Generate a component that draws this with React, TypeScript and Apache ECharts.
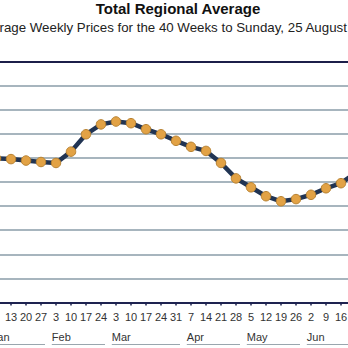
import React, { useEffect, useRef } from "react";
import * as echarts from "echarts";

const titleText = "Total Regional Average";
const subtitleText = "Average Weekly Prices for the 40 Weeks to Sunday, 25 August 2013";

// weeks (Sundays) visible in the picture, 6 Jan .. 23 Jun 2013
const weekDays = [
  "6", "13", "20", "27",
  "3", "10", "17", "24",
  "3", "10", "17", "24", "31",
  "7", "14", "21", "28",
  "5", "12", "19", "26",
  "2", "9", "16", "23",
];
const weekKeys = weekDays.map((d, i) => `${i}-${d}`);

// average price (in gridline units)
const prices = [
  5.98, 5.95, 5.89, 5.83,
  5.79, 6.26, 6.98, 7.39,
  7.51, 7.44, 7.19, 6.98, 6.71,
  6.46, 6.29, 5.79, 5.15,
  4.78, 4.41, 4.2, 4.29,
  4.47, 4.74, 4.95, 5.39,
];

const monthNames = ["Jan", "Feb", "Mar", "Apr", "May", "Jun"];
const monthStart = [0, 4, 8, 13, 17, 21];
const monthCount = [4, 4, 5, 4, 4, 4];

const FONT = "'Liberation Sans', Arial, Helvetica, sans-serif";

export default function App() {
  const ref = useRef<HTMLDivElement>(null);

  useEffect(() => {
    if (!ref.current) return;
    const chart = echarts.init(ref.current, null, { renderer: "svg" });
    chart.setOption({
      animation: false,
      backgroundColor: "#ffffff",
      title: {
        text: titleText,
        left: "center",
        top: 0,
        padding: [1, 5, 1, 5],
        textStyle: { fontSize: 15, fontWeight: "bold", color: "#111111", fontFamily: FONT },
      },
      grid: { left: 88.5, right: 92.5, top: 61.5, bottom: 45.5, containLabel: false },
      xAxis: [
        {
          type: "category",
          data: weekKeys,
          boundaryGap: true,
          position: "bottom",
          axisLine: { show: true, lineStyle: { color: "#1e2350", width: 2 } },
          axisTick: { show: true, alignWithLabel: true, length: 3, lineStyle: { color: "#1e2350", width: 1.5 } },
          axisLabel: {
            interval: 0,
            margin: 9,
            fontSize: 11,
            color: "#333333",
            fontFamily: FONT,
            formatter: (v: string) => v.split("-")[1],
          },
          splitLine: { show: false },
        },
        {
          type: "category",
          data: weekKeys,
          boundaryGap: true,
          position: "top",
          axisLine: { show: true, lineStyle: { color: "#1c1f4a", width: 2 } },
          axisTick: { show: false },
          axisLabel: { show: false },
          splitLine: { show: false },
        },
      ],
      yAxis: {
        type: "value",
        min: 0,
        max: 10,
        interval: 1,
        axisLine: { show: false },
        axisTick: { show: false },
        axisLabel: { show: false },
        splitLine: { show: true, lineStyle: { color: "#8a9ca8", width: 1.6 } },
      },
      series: [
        {
          type: "line",
          data: prices,
          xAxisIndex: 0,
          symbol: "circle",
          symbolSize: 9.5,
          lineStyle: { color: "#213453", width: 4.5 },
          itemStyle: { color: "#e2a245", borderColor: "#b88232", borderWidth: 1 },
          z: 3,
        },
      ],
    });

    const p0 = chart.convertToPixel({ xAxisIndex: 0 }, weekKeys[0]) as number;
    const p1 = chart.convertToPixel({ xAxisIndex: 0 }, weekKeys[1]) as number;
    const half = (p1 - p0) / 2;
    const elements: any[] = [
      {
        type: "text",
        x: 278.5,
        y: 21,
        style: {
          text: subtitleText,
          fill: "#222222",
          font: `13.3px ${FONT}`,
          textAlign: "center",
          align: "center",
          textVerticalAlign: "top",
          verticalAlign: "top",
        },
      },
    ];
    monthNames.forEach((name, i) => {
      const first = chart.convertToPixel({ xAxisIndex: 0 }, weekKeys[monthStart[i]]) as number;
      const last = chart.convertToPixel(
        { xAxisIndex: 0 },
        weekKeys[monthStart[i] + monthCount[i] - 1]
      ) as number;
      const xs = first - half + 3.3;
      const xe = last + half - 3.5;
      elements.push({
        type: "text",
        x: xs,
        y: 337,
        style: {
          text: name,
          fill: "#333333",
          font: `11px ${FONT}`,
          textAlign: "left",
          align: "left",
          textVerticalAlign: "middle",
          verticalAlign: "middle",
        },
      });
      elements.push({
        type: "line",
        shape: { x1: xs, y1: 344.5, x2: xe, y2: 344.5 },
        style: { stroke: "#9aa6ae", lineWidth: 1 },
      });
    });
    chart.setOption({ graphic: elements });

    return () => chart.dispose();
  }, []);

  return (
    <div
      style={{
        position: "fixed",
        left: 0,
        top: 0,
        width: 348,
        height: 348,
        overflow: "hidden",
        background: "#ffffff",
      }}
    >
      <div
        ref={ref}
        style={{ position: "absolute", left: -100, top: 0, width: 556, height: 348 }}
      />
    </div>
  );
}
